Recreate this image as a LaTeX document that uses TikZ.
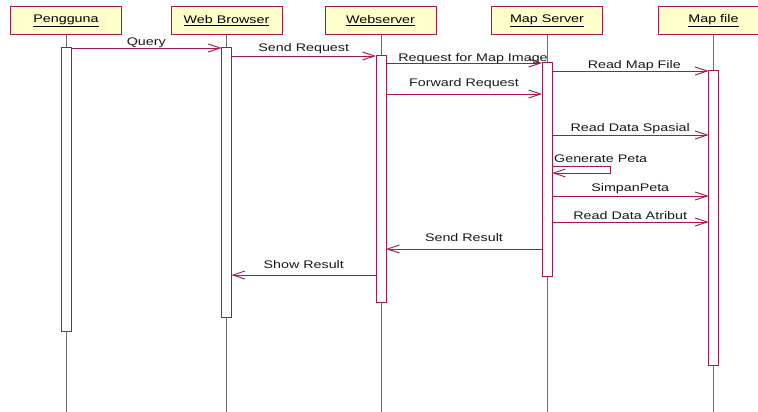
\documentclass[tikz,border=0pt]{standalone}
\usepackage{fontspec}
\setmainfont{Liberation Sans}[FakeStretch=1.3]
\usetikzlibrary{arrows.meta}
\definecolor{umlred}{RGB}{168,24,72}
\definecolor{umlfill}{RGB}{255,255,204}
\definecolor{lifegray}{RGB}{110,110,110}
\begin{document}
\begin{tikzpicture}[x=1pt,y=-1pt, font=\fontsize{11}{13}\selectfont,
  actor/.style={draw=umlred, fill=umlfill, line width=1pt, minimum width=111pt, minimum height=28pt, inner sep=0pt, outer sep=0pt},
  activ/.style={draw=umlred, fill=white, line width=1pt, minimum width=10pt, inner sep=0pt, outer sep=0pt},
  life/.style={draw=lifegray, line width=1pt},
  msg/.style={draw=umlred, line width=0.9pt, -{Straight Barb[length=12pt,width=8pt]}},
  lbl/.style={anchor=base, yshift=3pt, inner sep=0pt, text=black!90}]
\useasboundingbox (0,0) rectangle (758,412);
\clip (0,0) rectangle (758,412);
% actors
\node[actor] (p)  at (66,21)    {\raisebox{2pt}{\underline{Pengguna}}};
\node[actor] (wb) at (226.5,21) {\raisebox{2pt}{\underline{Web Browser}}};
\node[actor] (ws) at (380.5,21) {\raisebox{2pt}{\underline{Webserver}}};
\node[actor] (ms) at (547,21)   {\raisebox{2pt}{\underline{Map Server}}};
\node[actor] (mf) at (713.5,21) {\raisebox{2pt}{\underline{Map file}}};
% lifeline ends
\coordinate (pe)  at (66,412);
\coordinate (wbe) at (226.5,412);
\coordinate (wse) at (381,412);
\coordinate (mse) at (547,412);
\coordinate (mfe) at (713.5,412);
\draw[life] (p.south) -- (pe);
\draw[life] (wb.south) -- (wbe);
\draw[life] (ws.south -| wse) -- (wse);
\draw[life] (ms.south) -- (mse);
\draw[life] (mf.south) -- (mfe);
% activation bars
\node[activ, minimum height=283pt] (pa)  at (66,189.5)    {};
\node[activ, minimum height=269pt] (wba) at (226.5,182.5) {};
\node[activ, minimum height=246pt] (wsa) at (381,179)     {};
\node[activ, minimum height=213pt] (msa) at (547,169.5)   {};
\node[activ, minimum height=294pt] (mfa) at (713.5,218)   {};
% messages
\draw[msg] (pa.east |- 0,48) -- (wba.west |- 0,48) node[midway,lbl,yshift=-0.5pt] {Query};
\draw[msg] (wba.east |- 0,56) -- (wsa.west |- 0,56) node[midway,lbl,yshift=1pt] {Send Request};
\draw[msg] (wsa.east |- 0,63) -- (msa.west |- 0,63) node[midway,lbl,xshift=9pt,yshift=-1.5pt] {Request for Map Image};
\draw[msg] (msa.east |- 0,71) -- (mfa.west |- 0,71) node[midway,lbl,xshift=4pt,yshift=-1pt] {Read Map File};
\draw[msg] (wsa.east |- 0,94) -- (msa.west |- 0,94) node[midway,lbl,yshift=5pt] {Forward Request};
\draw[msg] (msa.east |- 0,135) -- (mfa.west |- 0,135) node[midway,lbl,yshift=1pt] {Read Data Spasial};
\draw[msg] (msa.east |- 0,166) -- (610,166) -- (610,173) -- (msa.east |- 0,173);
\node[anchor=base west, inner sep=0pt, text=black!90] (gp) at (554,162) {Generate Peta};
\draw[msg] (msa.east |- 0,196) -- (mfa.west |- 0,196) node[midway,lbl,yshift=2pt] {SimpanPeta};
\draw[msg] (msa.east |- 0,222) -- (mfa.west |- 0,222) node[midway,lbl] {Read Data Atribut};
\draw[msg] (msa.west |- 0,249) -- (wsa.east |- 0,249) node[midway,lbl,yshift=5pt] {Send Result};
\draw[msg] (wsa.west |- 0,275) -- (wba.east |- 0,275) node[midway,lbl,yshift=4pt] {Show Result};
\end{tikzpicture}
\end{document}
